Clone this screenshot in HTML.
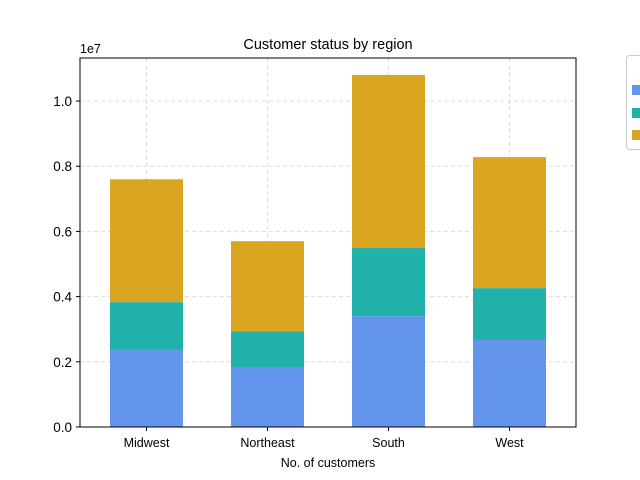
<!DOCTYPE html>
<html><head><meta charset="utf-8"><style>
body{margin:0;background:#fff;}
svg{display:block;font-family:"Liberation Sans","DejaVu Sans",sans-serif;}
</style></head><body>
<svg id="chart" width="640" height="480" viewBox="0 0 640 480">
<rect x="0" y="0" width="640" height="480" fill="#fff"/>
<g id="grid"></g><g id="bars"></g><g id="axes"></g>
<text x="328" y="49" text-anchor="middle" font-size="14.5">Customer status by region</text>
<text x="328" y="467" text-anchor="middle" font-size="12.5">No. of customers</text>
<text x="80" y="53" font-size="12.5">1e7</text>
<g>
<rect x="626.5" y="55.5" width="30" height="94" rx="3" fill="#fff" stroke="#ccc"/>
<rect x="632" y="85" width="10" height="10" fill="#6495ED"/>
<rect x="632" y="108" width="10" height="10" fill="#20B2AA"/>
<rect x="632" y="130" width="10" height="10" fill="#DAA520"/>
</g>
</svg>
<script>
const categories=["Midwest","Northeast","South","West"];
const series1=[2.36,1.84,3.40,2.67];
const series2=[1.47,1.10,2.09,1.59];
const series3=[3.77,2.76,5.31,4.02];
const yTicks=[0,0.2,0.4,0.6,0.8,1.0];
const yTickLabels=["0.0","0.2","0.4","0.6","0.8","1.0"];
const colors=["#6495ED","#20B2AA","#DAA520"];
const NS="http://www.w3.org/2000/svg";
const L=80,R=576,T=58,B=427,yMax=11.32;
const y=v=>B-(v/yMax)*(B-T);
const xc=i=>146.5+121*i;
const bw=73;
function mk(tag,attrs,parent){const e=document.createElementNS(NS,tag);for(const k in attrs)e.setAttribute(k,attrs[k]);document.getElementById(parent).appendChild(e);return e;}
yTicks.forEach((t,i)=>{
  const yy=y(t*10);
  const g=mk("line",{x1:L,x2:R,y1:yy,y2:yy,stroke:"#dcdcdc","stroke-dasharray":"4,3"},"grid");
  
  
  const tk=mk("line",{x1:L-4,x2:L,y1:yy,y2:yy,stroke:"#000"},"axes");
  
  
  const tx=mk("text",{x:L-8,y:yy+5,"text-anchor":"end","font-size":"13.5"},"axes");
  tx.textContent=yTickLabels[i];
  
  
});
categories.forEach((c,i)=>{
  const xx=xc(i);
  const g=mk("line",{x1:xx,x2:xx,y1:T,y2:B,stroke:"#dcdcdc","stroke-dasharray":"4,3"},"grid");
  
  
  let base=0;
  [series1,series2,series3].forEach((s,k)=>{
    const v=s[i];
    const r=mk("rect",{x:xx-bw/2,y:y(base+v),width:bw,height:y(base)-y(base+v),fill:colors[k]},"bars");
    
    
    base+=v;
  });
  const tk=mk("line",{x1:xx,x2:xx,y1:B,y2:B+4,stroke:"#000"},"axes");
  
  
  const tx=mk("text",{x:xx,y:B+20,"text-anchor":"middle","font-size":"12.5"},"axes");
  tx.textContent=c;
  
  
});
const fr=mk("rect",{x:L,y:T,width:R-L,height:B-T,fill:"none",stroke:"#000","stroke-width":"1"},"axes");


</script>
</body></html>
